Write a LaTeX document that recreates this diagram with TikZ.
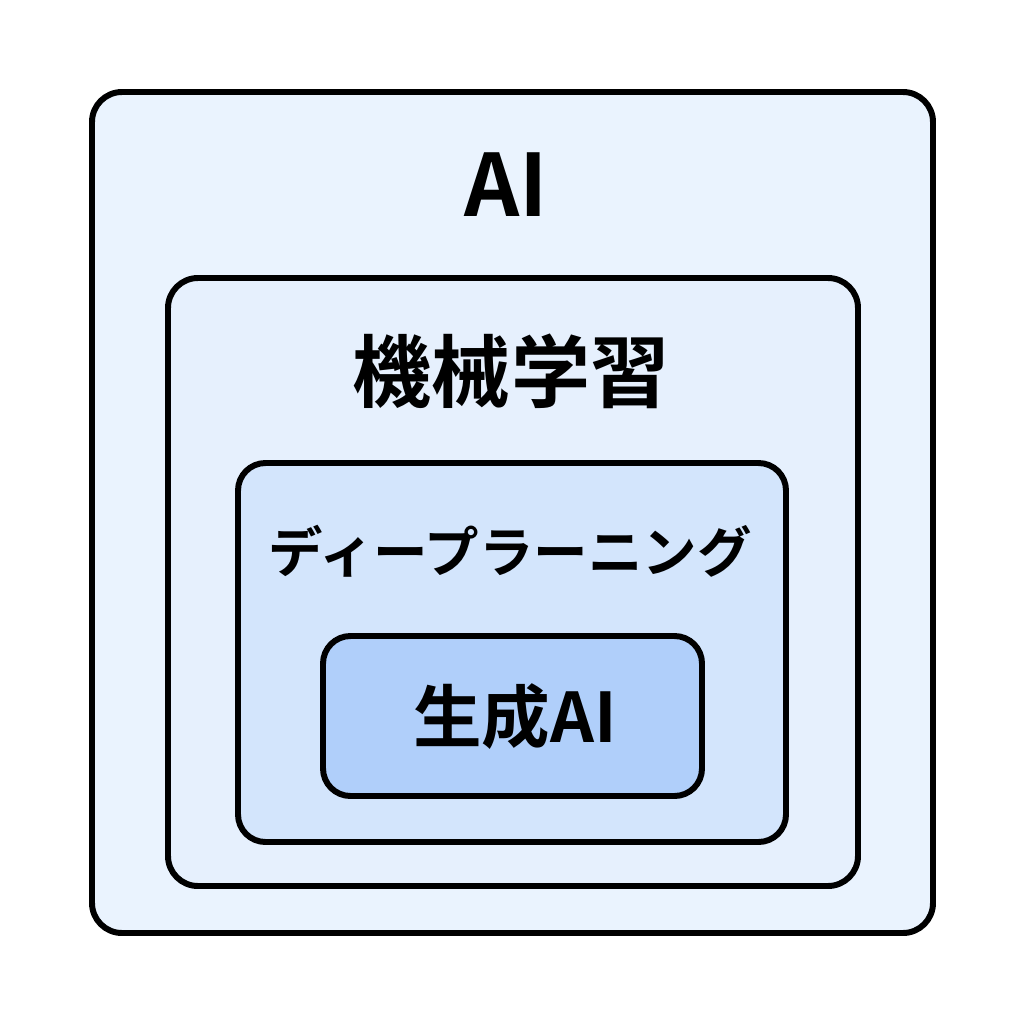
\documentclass[tikz,border=0pt]{standalone}
\usepackage{fontspec}
\setmainfont{Noto Sans CJK JP}[BoldFont={* Bold}]
\usepackage{tikz}
\usetikzlibrary{positioning}
\definecolor{aiblue}{HTML}{EAF3FE}
\definecolor{mlblue}{HTML}{E6F0FD}
\definecolor{dlblue}{HTML}{D3E5FC}
\definecolor{genblue}{HTML}{B0CFFA}
\tikzset{
  box/.style={draw=black, line width=3.4pt, rounded corners=0.6cm},
  lbl/.style={inner sep=0pt, font=\bfseries}
}
\begin{document}
\begin{tikzpicture}[x=0.02cm,y=-0.02cm]
\useasboundingbox (0,0) rectangle (1024,1024);
\fill[white] (0,0) rectangle (1024,1024);
\draw[box, fill=aiblue] (92,92) rectangle (933,933);
\draw[box, fill=mlblue] (168,278) rectangle (858,886);
\draw[box, fill=dlblue, rounded corners=0.55cm] (238,463) rectangle (786,842);
\draw[box, fill=genblue, rounded corners=0.55cm] (323,636) rectangle (702,796);
\node[lbl, font=\fontsize{49}{49}\selectfont\bfseries] (ai) at (506,185) {AI};
\node[lbl, font=\fontsize{45}{45}\selectfont\bfseries] (ml) at (511,371) {機械学習};
\node[lbl, font=\fontsize{31}{31}\selectfont\bfseries] (dl) at (510,551) {ディープラーニング};
\node[lbl, font=\fontsize{39}{39}\selectfont\bfseries] (gen) at (515,717) {生成AI};
\end{tikzpicture}
\end{document}
